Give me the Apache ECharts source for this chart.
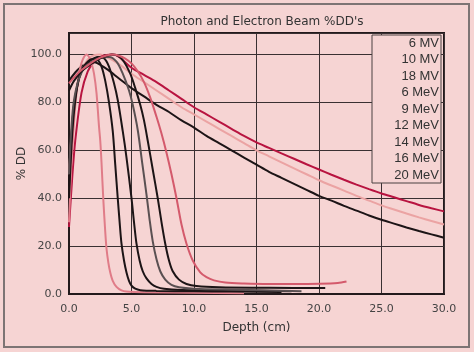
<!DOCTYPE html>
<html>
<head>
<meta charset="utf-8">
<script src="https://cdn.jsdelivr.net/npm/echarts@6/dist/echarts.min.js"></script>
<style>
  html, body { margin: 0; padding: 0; background: #fbeeee; }
  #chart { width: 474px; height: 352px; }
</style>
</head>
<body>
<div id="chart"></div>
<script>
// series names, in legend order
var beamNames = ['6 MV', '10 MV', '18 MV', '6 MeV', '9 MeV', '12 MeV', '14 MeV', '16 MeV', '20 MeV'];
var beamColors = ['#1c1416', '#eba3a3', '#b81440', '#e07c88', '#1c1416', '#1c1416', '#5a5052', '#1c1416', '#d45a6c'];

// photons (depth in cm, dose in %)
var depth6MV = [0, 0.5, 1, 1.5, 2, 3, 4, 5, 6, 7, 8, 9, 10, 11, 12, 13, 14, 15, 16, 17, 18, 19, 20, 21, 22, 23, 24, 25, 26, 27, 28, 29, 30];
var dose6MV  = [89, 92.5, 95, 96.5, 96.8, 94, 90, 86, 82.5, 79, 76, 72.5, 69.5, 66, 63, 60, 57, 54, 51, 48.5, 46, 43.5, 41, 39, 36.8, 34.8, 32.8, 31, 29.4, 27.8, 26.3, 24.9, 23.5];
var depth10MV = [0, 0.25, 0.5, 1, 1.5, 2, 2.5, 3, 4, 5, 6, 7, 8, 9, 10, 11, 12, 13, 14, 15, 16, 17, 18, 19, 20, 21, 22, 23, 24, 25, 26, 27, 28, 29, 30];
var dose10MV  = [50, 70, 82, 93, 98, 99.7, 100, 99, 96, 92, 88.5, 85, 81.5, 78, 75, 72, 69, 66, 63, 60, 57.5, 55, 52.5, 50, 47.5, 45.3, 43.2, 41, 39, 37, 35.3, 33.6, 32, 30.5, 29];
var depth18MV = [0, 0.25, 0.5, 1, 1.5, 2, 2.5, 3, 3.5, 4, 5, 6, 7, 8, 9, 10, 11, 12, 13, 14, 15, 16, 17, 18, 19, 20, 21, 22, 23, 24, 25, 26, 27, 28, 29, 30];
var dose18MV  = [28, 48, 64, 84, 93, 97, 99, 99.8, 100, 99, 94.5, 91.5, 88.5, 85, 81.5, 78, 75, 72, 69, 66, 63.3, 61, 58.7, 56.5, 54.2, 52, 49.8, 47.7, 45.7, 43.8, 42, 40.4, 38.8, 37.2, 35.8, 34.5];

// electrons
var depth6MeV = [0, 0.2, 0.4, 0.6, 0.8, 1.0, 1.2, 1.4, 1.6, 1.8, 2.0, 2.2, 2.4, 2.5, 2.6, 2.75, 2.9, 3.0, 3.15, 3.3, 3.5, 3.8, 4.2, 4.6, 6, 10, 14];
var dose6MeV  = [30, 55, 72, 84, 92, 96.5, 99, 100, 99, 96.5, 92, 84, 70, 64, 55, 39, 26, 19, 13, 9, 5.5, 3, 1.5, 1, 0.7, 0.5, 0.3];
var depth9MeV = [0, 0.2, 0.4, 0.7, 1.0, 1.4, 1.8, 2.2, 2.6, 2.9, 3.2, 3.5, 3.7, 3.9, 4.05, 4.2, 4.4, 4.6, 4.8, 5.0, 5.3, 5.7, 7, 10, 13, 17];
var dose9MeV  = [40, 62, 76, 88, 93.5, 96.5, 98, 98, 95, 89, 80, 68, 54, 40, 30, 21, 14, 9, 5.5, 3.5, 2.2, 1.6, 1.3, 1.1, 1, 0.8];
var depth12MeV = [0, 0.2, 0.4, 0.8, 1.2, 1.7, 2.3, 2.8, 3.2, 3.6, 3.9, 4.3, 4.6, 5.0, 5.2, 5.4, 5.65, 5.9, 6.2, 6.6, 7.0, 7.6, 9, 12, 17.8];
var dose12MeV  = [45, 66, 79, 90, 95, 97.5, 99, 98.5, 95, 88, 81, 68, 57, 40, 30, 21, 14, 9.5, 6.5, 4.2, 3, 2.2, 1.7, 1.5, 1.2];
var depth14MeV = [0, 0.2, 0.4, 0.8, 1.3, 2, 2.6, 3.2, 3.8, 4.3, 4.8, 5.1, 5.5, 5.85, 6.2, 6.45, 6.7, 7.0, 7.3, 7.7, 8.2, 8.8, 10, 13, 18.6];
var dose14MeV  = [50, 70, 81, 90, 95, 97.5, 98.8, 99, 97, 92, 85, 79, 68.5, 55, 41.5, 31, 22, 14.5, 9.5, 6, 3.8, 2.8, 2.2, 1.8, 1.2];
var depth16MeV = [0, 0.4, 1.0, 1.6, 2.2, 2.8, 3.4, 3.9, 4.4, 4.9, 5.3, 5.7, 6.0, 6.3, 6.7, 7.1, 7.4, 7.7, 8.0, 8.3, 8.8, 9.4, 10.2, 12, 16, 20.5];
var dose16MeV  = [85, 89, 93, 95.5, 97.5, 99, 100, 99.5, 97, 92, 86, 79, 72.5, 64, 52, 40, 30, 21, 14, 9.5, 6, 4.2, 3.3, 2.8, 2.6, 2.5];
var depth20MeV = [0, 0.5, 1, 1.5, 2, 2.5, 3, 3.5, 4, 4.5, 5, 5.5, 6, 6.5, 7.0, 7.4, 7.8, 8.2, 8.6, 9.0, 9.4, 9.9, 10.5, 11.0, 11.6, 12.5, 14, 16, 18, 20, 21.5, 22.2];
var dose20MeV  = [88, 91, 93.5, 95.5, 97.3, 98.7, 99.6, 100, 99.5, 98.3, 96.3, 93, 88.5, 82, 74, 67, 59, 50, 40, 29, 21, 14, 9, 7, 5.7, 4.8, 4.4, 4.2, 4.2, 4.3, 4.6, 5.2];

var beamDepths = [depth6MV, depth10MV, depth18MV, depth6MeV, depth9MeV, depth12MeV, depth14MeV, depth16MeV, depth20MeV];
var beamDoses = [dose6MV, dose10MV, dose18MV, dose6MeV, dose9MeV, dose12MeV, dose14MeV, dose16MeV, dose20MeV];

var xTicks = [0, 5, 10, 15, 20, 25, 30];
var yTicks = [0, 20, 40, 60, 80, 100];

var bg = '#f6d4d3';
var font = 'DejaVu Sans';

function zip(a, b) {
    var out = [];
    for (var i = 0; i < a.length; i++) {
        out.push([a[i], b[i]]);
    }
    return out;
}

var chart = echarts.init(document.getElementById('chart'));

var series = beamNames.map(function (name, i) {
    return {
        name: name,
        type: 'line',
        data: zip(beamDepths[i], beamDoses[i]),
        showSymbol: false,
        smooth: 0.3,
        lineStyle: { color: beamColors[i], width: 2 },
        itemStyle: { color: beamColors[i] },
        z: 3
    };
});

var options = {
    backgroundColor: bg,
    animation: false,
    title: {
        text: "Photon and Electron Beam %DD's",
        left: 257,
        textAlign: 'center',
        top: 11,
        textStyle: { fontFamily: font, fontSize: 12, fontWeight: 'normal', color: '#333' }
    },
    graphic: [{
        type: 'rect',
        shape: { x: 4, y: 4, width: 465, height: 343 },
        style: { fill: 'none', stroke: '#7d7474', lineWidth: 2 },
        z: 0
    }],
    legend: {
        orient: 'vertical',
        right: 33,
        top: 35,
        icon: 'rect',
        itemWidth: 0,
        itemHeight: 10,
        itemGap: 2.5,
        selectedMode: false,
        backgroundColor: bg,
        borderColor: '#4a4040',
        borderWidth: 1,
        borderRadius: 0,
        padding: [1, 2, 1, 4],
        formatter: '{a|{name}}',
        textStyle: {
            fontFamily: 'Liberation Sans',
            fontSize: 13,
            color: '#333',
            lineHeight: 14,
            rich: { a: { width: 58, align: 'right', fontFamily: 'Liberation Sans', fontSize: 13, color: '#333' } }
        },
        z: 10
    },
    grid: {
        left: 69,
        right: 30,
        top: 33,
        bottom: 58,
        show: true,
        borderColor: '#231a1c',
        borderWidth: 2,
        backgroundColor: bg
    },
    xAxis: {
        type: 'value',
        min: 0,
        max: 30,
        interval: 5,
        name: 'Depth (cm)',
        nameLocation: 'middle',
        nameGap: 28,
        nameMoveOverlap: false,
        nameTextStyle: { fontFamily: font, fontSize: 12, color: '#333' },
        axisLine: { lineStyle: { color: '#231a1c', width: 2 } },
        axisTick: { show: false },
        axisLabel: {
            margin: 10,
            fontFamily: font,
            fontSize: 11,
            color: '#444',
            formatter: function (v) { return xTicks.indexOf(v) >= 0 ? v.toFixed(1) : ''; }
        },
        splitLine: { show: true, lineStyle: { color: '#3a3032', width: 1 } }
    },
    yAxis: {
        type: 'value',
        min: 0,
        max: 109,
        interval: 20,
        name: '% DD',
        nameLocation: 'middle',
        nameGap: 41,
        nameMoveOverlap: false,
        nameRotate: 90,
        nameTextStyle: { fontFamily: font, fontSize: 12, color: '#333' },
        axisLine: { show: true, lineStyle: { color: '#231a1c', width: 2 } },
        axisTick: { show: false },
        axisLabel: {
            margin: 7,
            fontFamily: font,
            fontSize: 11,
            color: '#444',
            showMaxLabel: false,
            formatter: function (v) { return yTicks.indexOf(v) >= 0 ? v.toFixed(1) : ''; }
        },
        splitLine: { show: true, lineStyle: { color: '#3a3032', width: 1 } }
    },
    series: series
};

chart.setOption(options);
</script>
</body>
</html>
